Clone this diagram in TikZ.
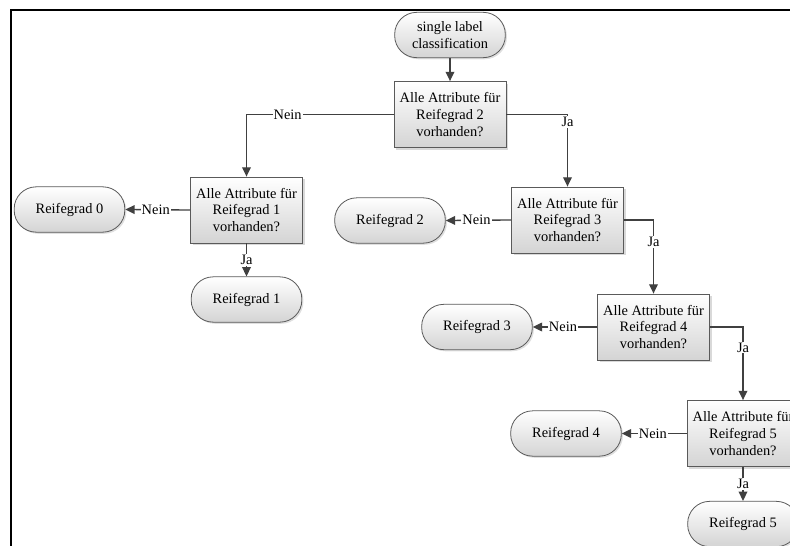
\documentclass[tikz,border=0pt]{standalone}
\usepackage{fontspec}
\setmainfont{Liberation Serif}
\usetikzlibrary{arrows.meta, shadows}

\definecolor{linegray}{HTML}{404040}
\definecolor{bordergray}{HTML}{5A5A5A}
\definecolor{fillgray}{HTML}{D4D4D4}

\begin{document}
\begin{tikzpicture}[
  x=0.75pt, y=-0.75pt,
  font=\fontsize{10.8}{12.4}\selectfont,
  terminal/.style={
    % The shape:
    rectangle,
    rounded corners=16.5pt,
    align=center,
    % The size:
    minimum width=83pt,
    minimum height=34pt,
    % The border:
    draw=bordergray,
    line width=0.6pt,
    % The filling:
    top color=white,
    bottom color=fillgray, % light gray at the bottom
    drop shadow={shadow xshift=1.2pt, shadow yshift=-1.2pt, opacity=0.25}
  },
  question/.style={
    % The shape:
    rectangle,
    align=center,
    % The size:
    minimum width=84pt,
    minimum height=49.5pt,
    % The border:
    draw=bordergray,
    line width=0.6pt,
    % The filling:
    top color=white,
    bottom color=fillgray,
    drop shadow={shadow xshift=1.5pt, shadow yshift=-1.5pt, opacity=0.3}
  },
  flow/.style={
    draw=linegray,
    line width=1pt,
    -{Triangle[length=7pt, width=6.5pt]}
  },
  answer/.style={
    fill=white,
    inner sep=0.8pt
  },
  ]

  \path[use as bounding box, clip] (0,0) rectangle (790,546);

  % frame
  \draw [line width=1.9pt] (11,546) -- (11,10) -- (790,10);

  % start and decisions
  \node (start) [terminal] at (450,35) {single label\\classification};
  \node (q2) [question] at (450,114.5) {Alle Attribute für\\Reifegrad 2\\vorhanden?};
  \node (q1) [question] at (246.5,210) {Alle Attribute für\\Reifegrad 1\\vorhanden?};
  \node (q3) [question] at (567.5,220) {Alle Attribute für\\Reifegrad 3\\vorhanden?};
  \node (q4) [question] at (653.5,327) {Alle Attribute für\\Reifegrad 4\\vorhanden?};
  \node (q5) [question] at (743,433.5) {Alle Attribute für\\Reifegrad 5\\vorhanden?};

  % results
  \node (r0) [terminal] at (69.5,209.5) {Reifegrad 0};
  \node (r1) [terminal] at (246.5,299.5) {Reifegrad 1};
  \node (r2) [terminal] at (390,220.5) {Reifegrad 2};
  \node (r3) [terminal] at (477,327) {Reifegrad 3};
  \node (r4) [terminal] at (566,433.5) {Reifegrad 4};
  \node (r5) [terminal] at (743,524) {Reifegrad 5};

  % connections
  \draw [flow] (start) -- (q2);
  \draw [flow] (q2.west) -| node [answer, pos=0.36] {Nein} (q1.north);
  \draw [flow] (q2.east) -| node [answer, pos=0.55] {Ja} (q3.north);
  \draw [flow] (q1.west) -- node [answer, pos=0.53] {Nein} (r0.east);
  \draw [flow] (q1.south) -- node [answer] {Ja} (r1.north);
  \draw [flow] (q3.west) -- node [answer, pos=0.53] {Nein} (r2.east);
  \draw [flow] (q3.east) -| node [answer, pos=0.65] {Ja} (q4.north);
  \draw [flow] (q4.west) -- node [answer, pos=0.53] {Nein} (r3.east);
  \draw [flow] (q4.east) -| node [answer, pos=0.64] {Ja} (q5.north);
  \draw [flow] (q5.west) -- node [answer, pos=0.52] {Nein} (r4.east);
  \draw [flow] (q5.south) -- node [answer] {Ja} (r5.north);

\end{tikzpicture}
\end{document}
